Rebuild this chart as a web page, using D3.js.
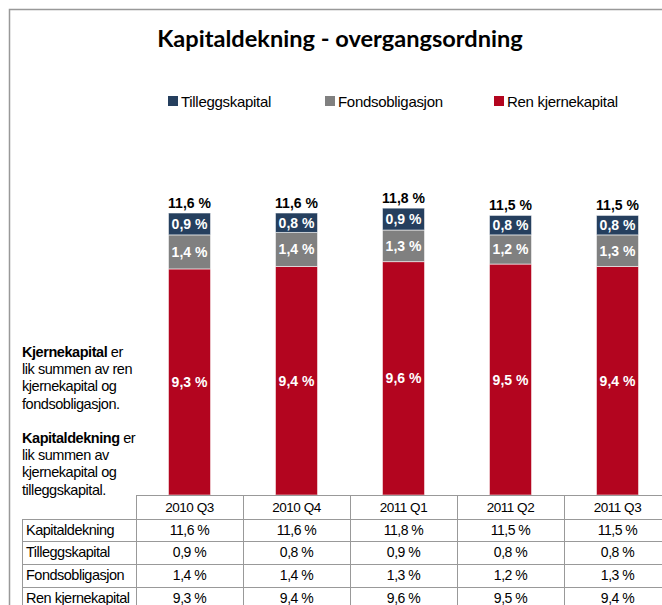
<!DOCTYPE html>
<html>
<head>
<meta charset="utf-8">
<script src="https://cdn.jsdelivr.net/npm/d3@7"></script>
<style>
  body { margin: 0; background: #fff; }
  svg text { font-family: "Liberation Sans", Arial, sans-serif; }
</style>
</head>
<body>
<div class="Graph"></div>
<script>
// data
const quarters = ["2010 Q3", "2010 Q4", "2011 Q1", "2011 Q2", "2011 Q3"];
const renKjerne = [9.3, 9.4, 9.6, 9.5, 9.4];
const fondsobl = [1.4, 1.4, 1.3, 1.2, 1.3];
const tillegg = [0.9, 0.8, 0.9, 0.8, 0.8];
const kapitaldekning = [11.6, 11.6, 11.8, 11.5, 11.5];

const seriesNames = ["Tilleggskapital", "Fondsobligasjon", "Ren kjernekapital"];
const colors = {"Ren kjernekapital": "#b3051f", "Fondsobligasjon": "#808080", "Tilleggskapital": "#253f5e"};
const tableRows = [
  ["Kapitaldekning", kapitaldekning],
  ["Tilleggskapital", tillegg],
  ["Fondsobligasjon", fondsobl],
  ["Ren kjernekapital", renKjerne]
];

const fmt = v => d3.format(".1f")(v).replace(".", ",") + " %";

const W = 662, H = 605;
const svg = d3.select(".Graph").append("svg")
  .attr("width", W).attr("height", H);

// outer frame
svg.append("path")
  .attr("d", "M9.5," + H + "V9.5H" + W)
  .attr("fill", "none").attr("stroke", "#999").attr("stroke-width", 1.5);

// title
svg.append("text")
  .attr("x", 340).attr("y", 47)
  .attr("text-anchor", "middle")
  .style("font-family", "Lato, 'Open Sans', sans-serif")
  .style("font-weight", "bold").style("font-size", "23.6px")
  .text("Kapitaldekning - overgangsordning");

// legend
const legX = [168, 325, 494];
const leg = svg.selectAll(".leg").data(seriesNames).enter().append("g")
  .attr("transform", (d, i) => "translate(" + legX[i] + ",96)");
leg.append("rect").attr("width", 10).attr("height", 10).attr("fill", d => colors[d]);
leg.append("text").attr("x", 13).attr("y", 10.5)
  .style("font-size", "15px").style("letter-spacing", "-0.3px")
  .text(d => d);

// scales
const x = d3.scaleBand().domain(quarters).range([136, 671])
  .paddingInner(0.607).paddingOuter(0.3035);
const col = d3.scaleBand().domain(quarters).range([136, 671]);
const y = d3.scaleLinear().domain([0, 12]).range([495, 495 - 12 * 24.31]);

// stacked bars
const rows = quarters.map((q, i) => ({
  q: q, "Ren kjernekapital": renKjerne[i], "Fondsobligasjon": fondsobl[i], "Tilleggskapital": tillegg[i]
}));
const stack = d3.stack().keys(["Ren kjernekapital", "Fondsobligasjon", "Tilleggskapital"])(rows);

const layer = svg.selectAll(".layer").data(stack).enter().append("g")
  .attr("fill", d => colors[d.key]);
layer.selectAll("rect").data(d => d).enter().append("rect")
  .attr("x", d => x(d.data.q))
  .attr("y", d => y(d[1]))
  .attr("width", x.bandwidth())
  .attr("height", d => y(d[0]) - y(d[1]))
  .attr("stroke", "rgba(255,255,255,0.55)").attr("stroke-width", 1);
layer.selectAll("text").data(d => d.map(v => Object.assign(v, {key: d.key}))).enter().append("text")
  .attr("x", d => x(d.data.q) + x.bandwidth() / 2)
  .attr("y", d => (y(d[0]) + y(d[1])) / 2 + 5)
  .attr("text-anchor", "middle")
  .attr("fill", "#fff")
  .style("font-weight", "bold").style("font-size", "14px")
  .text(d => fmt(d.data[d.key]));

// totals
svg.selectAll(".tot").data(quarters).enter().append("text")
  .attr("x", d => x(d) + x.bandwidth() / 2)
  .attr("y", (d, i) => y(kapitaldekning[i]) - 5)
  .attr("text-anchor", "middle")
  .style("font-weight", "bold").style("font-size", "14px")
  .text((d, i) => fmt(kapitaldekning[i]));

// left note
const note = [
  [["Kjernekapital", true], [" er", false]],
  [["lik summen av ren", false]],
  [["kjernekapital og", false]],
  [["fondsobligasjon.", false]],
  null,
  [["Kapitaldekning", true], [" er", false]],
  [["lik summen av", false]],
  [["kjernekapital og", false]],
  [["tilleggskapital.", false]]
];
note.forEach((line, i) => {
  if (!line) return;
  const t = svg.append("text").attr("x", 22).attr("y", 357 + i * 17.2)
    .style("font-size", "14.5px").style("letter-spacing", "-0.45px");
  line.forEach(p => t.append("tspan").style("font-weight", p[1] ? "bold" : "normal").text(p[0]));
});

// data table
const rowH = 22.8, headTop = 495, bodyTop = 519;
const lineColor = "#999";
const tbl = svg.append("g").attr("stroke", lineColor).attr("stroke-width", 1).attr("shape-rendering", "crispEdges");
tbl.append("line").attr("x1", 136).attr("x2", W).attr("y1", headTop).attr("y2", headTop);
tableRows.forEach((r, i) => {
  tbl.append("line").attr("x1", 22).attr("x2", W)
    .attr("y1", bodyTop + i * rowH).attr("y2", bodyTop + i * rowH);
});
tbl.append("line").attr("x1", 22).attr("x2", 22).attr("y1", bodyTop).attr("y2", H);
quarters.forEach(q => {
  tbl.append("line").attr("x1", col(q)).attr("x2", col(q)).attr("y1", headTop).attr("y2", H);
});

svg.selectAll(".hd").data(quarters).enter().append("text")
  .attr("x", d => col(d) + col.bandwidth() / 2)
  .attr("y", 512)
  .attr("text-anchor", "middle")
  .style("font-size", "13.5px").style("letter-spacing", "-0.5px")
  .text(d => d);

tableRows.forEach((r, i) => {
  const yy = bodyTop + i * rowH + 15.5;
  svg.append("text").attr("x", 26).attr("y", yy)
    .style("font-size", "14.5px").style("letter-spacing", "-0.5px")
    .text(r[0]);
  svg.selectAll(".c" + i).data(r[1]).enter().append("text")
    .attr("x", (d, j) => col(quarters[j]) + col.bandwidth() / 2)
    .attr("y", yy)
    .attr("text-anchor", "middle")
    .style("font-size", "14px").style("letter-spacing", "-0.5px")
    .text(d => fmt(d));
});
</script>
</body>
</html>
